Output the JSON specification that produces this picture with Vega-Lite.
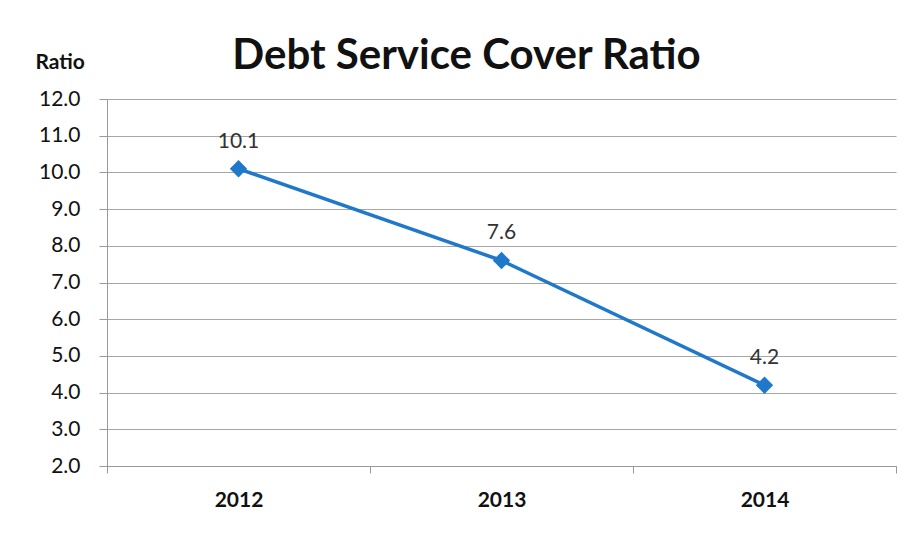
{
  "$schema": "https://vega.github.io/schema/vega-lite/v6.json",
  "autosize": {"type": "none"},
  "width": 789,
  "height": 367,
  "padding": {"left": 107, "top": 99, "right": 14, "bottom": 79},
  "background": "white",
  "title": {
    "text": "Debt Service Cover Ratio",
    "font": "Lato",
    "fontSize": 42,
    "fontWeight": "bold",
    "color": "#111111",
    "anchor": "middle",
    "offset": -27,
    "dx": -35
  },
  "config": {
    "view": {"stroke": null},
    "font": "Lato"
  },
  "data": {
    "values": [
      {"year": "2012", "ratio": 10.1},
      {"year": "2013", "ratio": 7.6},
      {"year": "2014", "ratio": 4.2}
    ]
  },
  "encoding": {
    "x": {
      "field": "year",
      "type": "ordinal",
      "scale": {"paddingInner": 0, "paddingOuter": 0},
      "axis": {
        "title": null,
        "labelAngle": 0,
        "labelFont": "Lato",
        "labelFontSize": 21,
        "labelFontWeight": "bold",
        "labelColor": "#111111",
        "labelPadding": 16,
        "tickBand": "extent",
        "ticks": true,
        "tickSize": 7,
        "tickColor": "#999999",
        "domainColor": "#999999",
        "grid": false
      }
    },
    "y": {
      "field": "ratio",
      "type": "quantitative",
      "scale": {"domain": [2, 12], "nice": false, "zero": false},
      "axis": {
        "values": [2, 3, 4, 5, 6, 7, 8, 9, 10, 11, 12],
        "format": ".1f",
        "title": "Ratio",
        "titleAngle": 0,
        "titleFont": "Lato",
        "titleFontSize": 21,
        "titleFontWeight": "bold",
        "titleColor": "#111111",
        "titleAlign": "left",
        "titleBaseline": "alphabetic",
        "titleX": -72,
        "titleY": -31,
        "labelFont": "Lato",
        "labelFontSize": 21,
        "labelColor": "#111111",
        "labelPadding": 19,
        "tickSize": 8,
        "tickColor": "#999999",
        "domainColor": "#999999",
        "grid": true,
        "gridColor": "#a6a6a6",
        "gridWidth": 1.2
      }
    }
  },
  "layer": [
    {
      "mark": {"type": "line", "color": "#1f78c9", "strokeWidth": 3.5}
    },
    {
      "mark": {"type": "point", "shape": "diamond", "filled": true, "color": "#1f78c9", "size": 300, "opacity": 1}
    },
    {
      "mark": {"type": "text", "dy": -27, "fontSize": 21, "font": "Lato", "color": "#333333"},
      "encoding": {
        "text": {"field": "ratio", "type": "quantitative", "format": ".1f"}
      }
    }
  ]
}
